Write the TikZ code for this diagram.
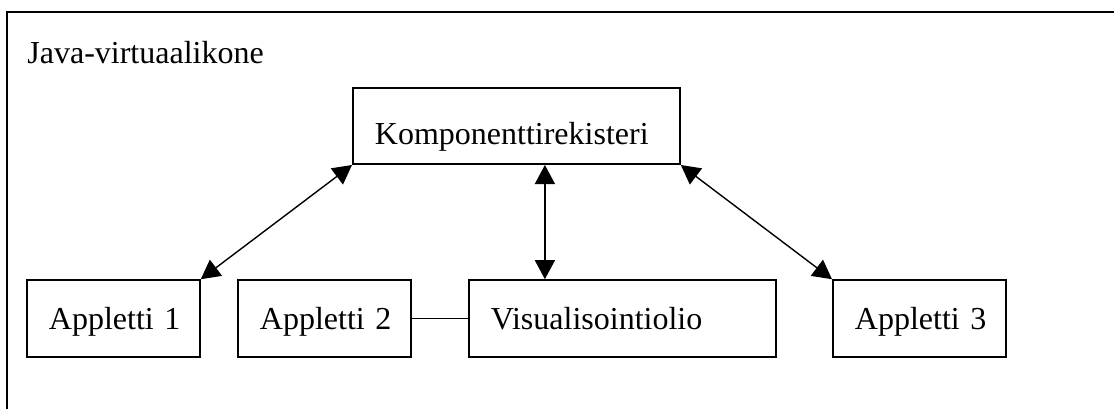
\documentclass[tikz,border=0pt]{standalone}
\usepackage{fontspec}
\setmainfont{Liberation Serif}
\usetikzlibrary{arrows.meta}
\tikzset{%
	box/.style = { draw, line width=0.9pt, inner xsep=11pt, inner ysep=0pt, align=left, anchor=south west },
	topbox/.style = { box, text height=28.25pt, text depth=9.75pt },
	lowbox/.style = { box, text height=24.5pt, text depth=14pt },
	biarrow/.style = { line width=0.7pt, {Triangle[length=9.5pt, width=10pt]}-{Triangle[length=9.5pt, width=10pt]} },
	frame/.style = { line width=1.1pt }
}

\begin{document}
\begin{tikzpicture}[x=0.5pt, y=0.5pt, every node/.style={font=\fontsize{16pt}{18pt}\selectfont}]
	\useasboundingbox (0,0) rectangle (1114,409);
	% virtuaalikoneen kehys
	\draw[frame] (1114,397) -- (7,397) -- (7,0);
	\node[anchor=base west, inner sep=0pt] (jvm) at (27,346) {Java-virtuaalikone};
	% rekisteri ylhaalla
	\node[topbox, text width=141.5pt] (reg) at (352,244) {Komponenttirekisteri};
	% alarivi
	\node[lowbox, text width=64.5pt] (app1) at (26,51) {Appletti~1};
	\node[lowbox, text width=64.5pt] (app2) at (237,51) {Appletti~2};
	\node[lowbox, text width=131.5pt] (vis) at (468,51) {Visualisointiolio};
	\node[lowbox, text width=64.5pt] (app3) at (832,51) {Appletti~3};
	% yhteydet
	\coordinate (regmid) at ([xshift=14.25pt]reg.south);
	\draw[biarrow] (reg.south west) -- (app1.north east);
	\draw[biarrow] (regmid) -- (regmid |- vis.north);
	\draw[biarrow] (reg.south east) -- (app3.north west);
	\draw[line width=0.7pt] (app2.east) -- (vis.west);
\end{tikzpicture}
\end{document}
